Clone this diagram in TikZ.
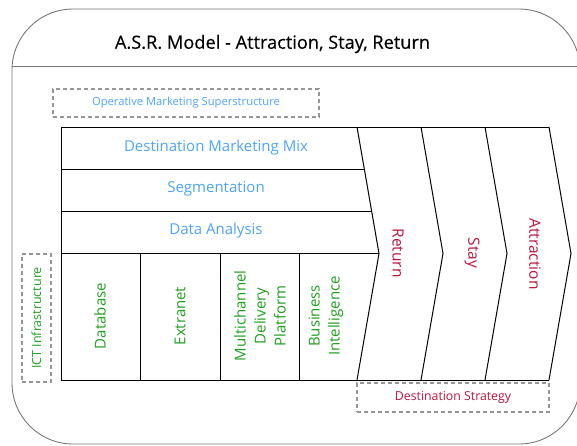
\documentclass[tikz,border=0pt]{standalone}
\usepackage{fontspec}
\setmainfont{Open Sans}
\newfontfamily\titlefont[FakeBold=0.35]{Open Sans}
\definecolor{lblue}{RGB}{77,163,255}
\definecolor{lgreen}{RGB}{30,160,30}
\definecolor{crim}{RGB}{190,20,60}
\definecolor{frame}{RGB}{120,120,120}
\definecolor{dashc}{RGB}{150,150,150}
\begin{document}
\begin{tikzpicture}[x=1pt,y=-1pt,
  every node/.style={inner sep=0pt,outer sep=0pt},
  mainline/.style={draw=black,line width=1pt},
  dbox/.style={draw=dashc,line width=1.1pt,dash pattern=on 4pt off 3pt},
  bluelbl/.style={text=lblue,font=\fontsize{15}{18}\selectfont},
  greenlbl/.style={text=lgreen,font=\fontsize{15}{20}\selectfont,rotate=90,align=center},
  redlbl/.style={text=crim,font=\fontsize{15.5}{18}\selectfont,rotate=-90}]
\useasboundingbox (0,0) rectangle (577,445);
% outer frame
\draw[frame,line width=0.9pt,rounded corners=61pt] (12,9) rectangle (580,444);
\draw[frame,line width=0.9pt] (12,66) -- (580,66);
\node (title) at (272.5,44) {\titlefont\fontsize{18.2}{20}\selectfont A.S.R. Model - Attraction, Stay, Return};
% dashed boxes
\node[dbox,minimum width=266pt,minimum height=28pt] (oms) at (186,103) {};
\node[text=lblue,font=\fontsize{11.2}{13}\selectfont] at (oms.center) {Operative Marketing Superstructure};
\node[dbox,minimum width=29pt,minimum height=128pt] (ict) at (36.5,318) {};
\node[text=lgreen,font=\fontsize{12.5}{14}\selectfont,rotate=90] at (ict.center) {ICT Infrastructure};
\node[dbox,minimum width=192pt,minimum height=29pt] (ds) at (453,397.5) {};
\node[text=crim,font=\fontsize{12.3}{14}\selectfont] at (ds.center) {Destination Strategy};
% main structure
\coordinate (tl) at (61,127);
\coordinate (bl) at (61,380);
\draw[mainline] (tl) -- (549,127);
\draw[mainline] (bl) -- (549,380);
\draw[mainline] (tl) -- (bl);
\foreach \xo in {357,421,485,549}{
  \draw[mainline,line join=miter] (\xo,127) -- (\xo+22,253.5) -- (\xo,380);
}
\draw[mainline] (61,169) -- (364.3,169);
\draw[mainline] (61,211) -- (371.6,211);
\draw[mainline] (61,253) -- (378.9,253);
\foreach \xc in {140,220,299}{
  \draw[mainline] (\xc,253) -- (\xc,380);
}
% row labels
\node[bluelbl] (dmm) at (216,148) {Destination Marketing Mix};
\node[bluelbl] (seg) at (216,189) {Segmentation};
\node[bluelbl] (da) at (216,231) {Data Analysis};
% column labels
\node[greenlbl] (db) at (100,316) {Database};
\node[greenlbl] (ex) at (180,316) {Extranet};
\node[greenlbl] (mdp) at (260,316) {Multichannel\\Delivery\\Platform};
\node[greenlbl] (bi) at (326,316) {Business\\Intelligence};
% chevron labels
\node[redlbl] (ret) at (398,253) {Return};
\node[redlbl] (stay) at (472,253) {Stay};
\node[redlbl] (attr) at (535,254) {Attraction};
\end{tikzpicture}
\end{document}
